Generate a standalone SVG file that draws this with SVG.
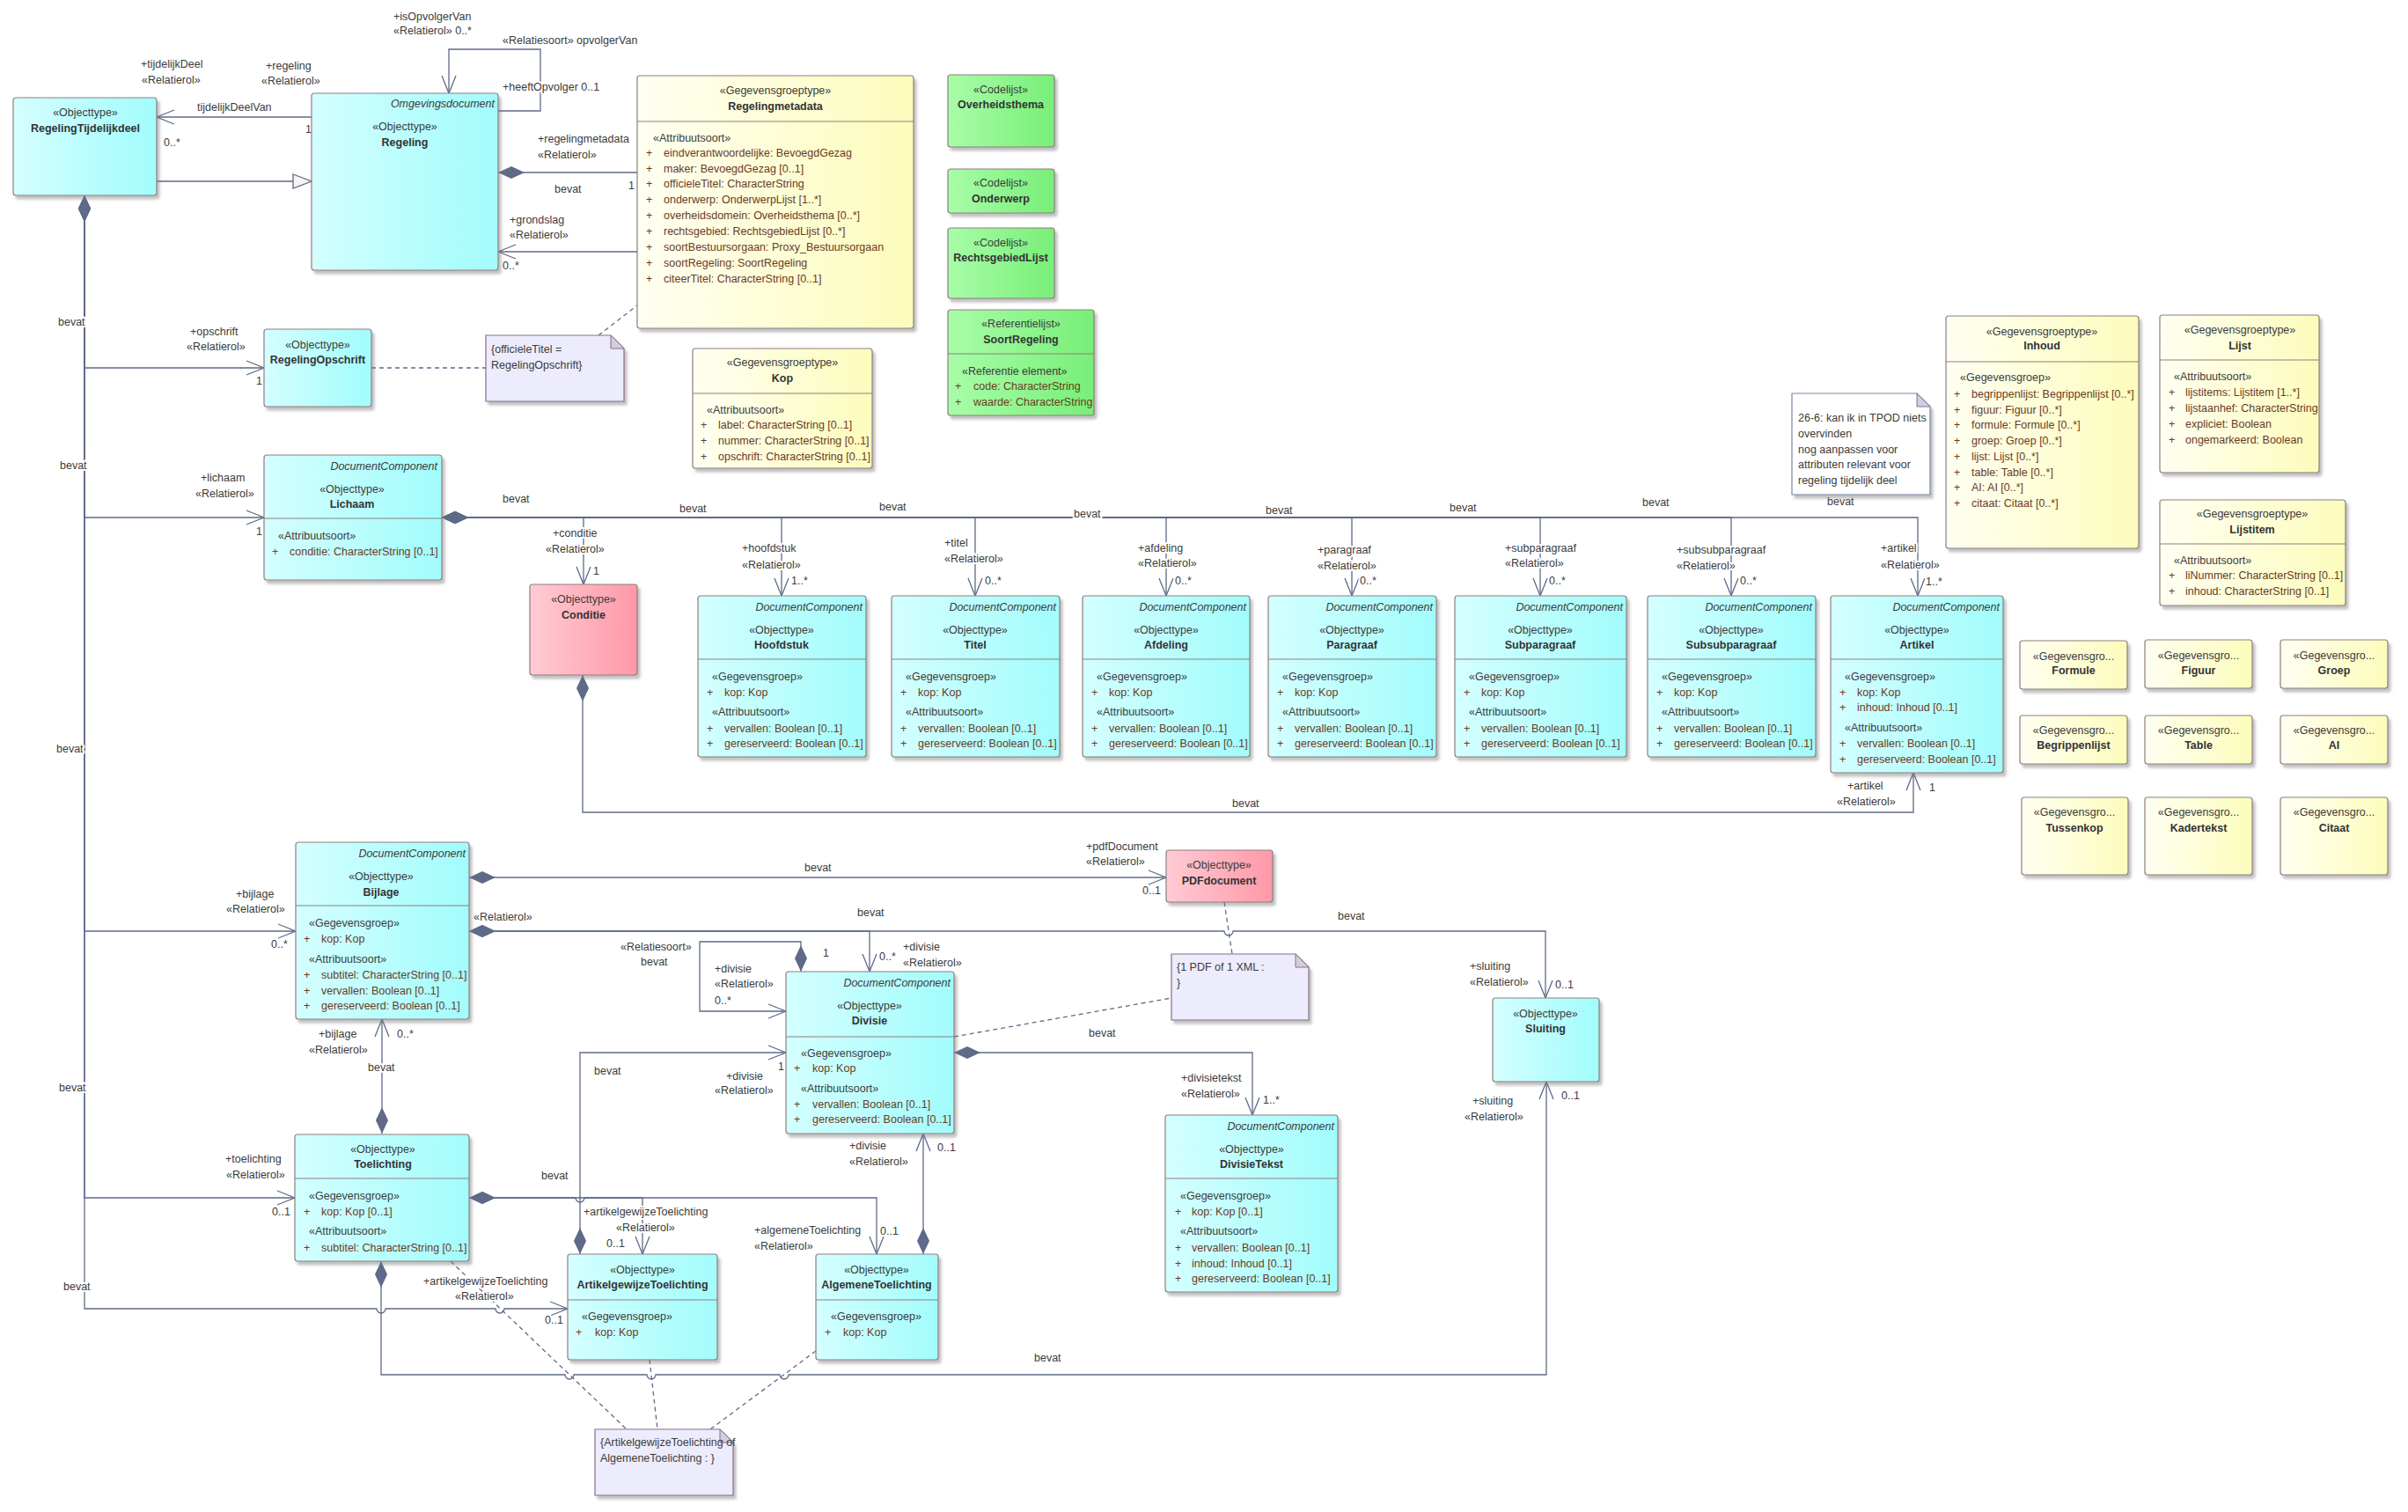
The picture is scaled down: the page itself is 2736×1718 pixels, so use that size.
<svg xmlns="http://www.w3.org/2000/svg" width="2736" height="1718" viewBox="0 0 2736 1718">
<style>
text{font-family:"Liberation Sans",Arial,sans-serif;font-size:12.5px;fill:#3b3b3b;dominant-baseline:central}
.c{text-anchor:middle}
.b{font-weight:bold;fill:#333}
.i{font-style:italic;text-anchor:end}
.a{fill:#6a3a1e}
.l{stroke:#fff;stroke-width:4px;paint-order:stroke;stroke-linejoin:round}
.cn path{fill:none;stroke:#5f6a88;stroke-width:1.3}
.dash{fill:none;stroke:#8c6c8c;stroke-width:1.2;stroke-dasharray:5 4}
.cy{fill:url(#gc);stroke:#8f7f7f;stroke-width:1.2;filter:url(#sh)}
.ye{fill:url(#gy);stroke:#8f7f7f;stroke-width:1.2;filter:url(#sh)}
.gr{fill:url(#gg);stroke:#8f7f7f;stroke-width:1.2;filter:url(#sh)}
.pk{fill:url(#gp);stroke:#8f7f7f;stroke-width:1.2;filter:url(#sh)}
.nt{fill:#ececfc;stroke:#8c6c8c;stroke-width:1.2;filter:url(#sh)}
.nw{fill:#ffffff;stroke:#7a86a0;stroke-width:1.2;filter:url(#sh)}
.fd{fill:#cfcfe0;stroke:#8c6c8c;stroke-width:1}
.dv{stroke:#8f7f7f;stroke-width:1.2}
</style>
<defs>
<linearGradient id="gc" x1="0" y1="0" x2="1" y2="0"><stop offset="0" stop-color="#d4ffff"/><stop offset="1" stop-color="#a2fcfc"/></linearGradient>
<linearGradient id="gy" x1="0" y1="0" x2="1" y2="0"><stop offset="0" stop-color="#fffff2"/><stop offset="1" stop-color="#fcfcbc"/></linearGradient>
<linearGradient id="gg" x1="0" y1="0" x2="1" y2="0"><stop offset="0" stop-color="#a8fda8"/><stop offset="1" stop-color="#78ee78"/></linearGradient>
<linearGradient id="gp" x1="0" y1="0" x2="1" y2="0"><stop offset="0" stop-color="#ffcbd5"/><stop offset="1" stop-color="#ff98a6"/></linearGradient>
<filter id="sh" x="-10%" y="-10%" width="125%" height="125%"><feDropShadow dx="3" dy="4" stdDeviation="1.5" flood-color="#777" flood-opacity="0.45"/></filter>
<marker id="arr" viewBox="-22 -10 24 20" refX="0" refY="0" markerWidth="24" markerHeight="20" markerUnits="userSpaceOnUse" orient="auto"><path d="M-20,-8 L0,0 L-20,8" fill="none" stroke="#5f6a88" stroke-width="1.3"/></marker>
<marker id="dia" viewBox="-32 -9 34 18" refX="0" refY="0" markerWidth="34" markerHeight="18" markerUnits="userSpaceOnUse" orient="auto-start-reverse"><path d="M0,0 L-15,-7 L-30,0 L-15,7 Z" fill="#5f6a88"/></marker>
<marker id="tri" viewBox="-24 -10 26 20" refX="0" refY="0" markerWidth="26" markerHeight="20" markerUnits="userSpaceOnUse" orient="auto"><path d="M-21,-8 L0,0 L-21,8 Z" fill="#fdf3ef" stroke="#5f6a88" stroke-width="1.3"/></marker>
</defs>
<rect x="0" y="0" width="2736" height="1718" fill="#ffffff"/>

<g id="connectors" class="cn">
<path d="M354,133 H178" marker-end="url(#arr)"/>
<path d="M178,206 H354" marker-end="url(#tri)"/>
<path d="M566,126 H614 V56 H510 V106" marker-end="url(#arr)"/>
<path d="M566,196 H724" marker-start="url(#dia)"/>
<path d="M724,286 H566" marker-end="url(#arr)"/>
<path d="M96,222 V418 H300" marker-start="url(#dia)" marker-end="url(#arr)"/>
<path d="M96,222 V588 H300" marker-start="url(#dia)" marker-end="url(#arr)"/>
<path d="M96,222 V1058 H336" marker-start="url(#dia)" marker-end="url(#arr)"/>
<path d="M96,222 V1361 H335" marker-start="url(#dia)" marker-end="url(#arr)"/>
<path d="M96,222 V1487 H428 A5,5 0 0 0 438,1487 H563 A5,5 0 0 0 573,1487 H645" marker-start="url(#dia)" marker-end="url(#arr)"/>
<path d="M502,588 H663 V664" marker-start="url(#dia)" marker-end="url(#arr)"/>
<path d="M502,588 H888 V677" marker-start="url(#dia)" marker-end="url(#arr)"/>
<path d="M502,588 H1108 V677" marker-start="url(#dia)" marker-end="url(#arr)"/>
<path d="M502,588 H1325 V677" marker-start="url(#dia)" marker-end="url(#arr)"/>
<path d="M502,588 H1536 V677" marker-start="url(#dia)" marker-end="url(#arr)"/>
<path d="M502,588 H1750 V677" marker-start="url(#dia)" marker-end="url(#arr)"/>
<path d="M502,588 H1967 V677" marker-start="url(#dia)" marker-end="url(#arr)"/>
<path d="M502,588 H2179 V677" marker-start="url(#dia)" marker-end="url(#arr)"/>
<path d="M662,767 V923 H2174 V878" marker-start="url(#dia)" marker-end="url(#arr)"/>
<path d="M533,997 H1325" marker-start="url(#dia)" marker-end="url(#arr)"/>
<path d="M533,1058 H1391 A5,5 0 0 0 1401,1058 H1756 V1134" marker-start="url(#dia)" marker-end="url(#arr)"/>
<path d="M533,1058 H988 V1104" marker-start="url(#dia)" marker-end="url(#arr)"/>
<path d="M910,1104 V1070 H795 V1149 H893" marker-start="url(#dia)" marker-end="url(#arr)"/>
<path d="M659,1425 V1196 H893" marker-start="url(#dia)" marker-end="url(#arr)"/>
<path d="M1084,1196 H1423 V1267" marker-start="url(#dia)" marker-end="url(#arr)"/>
<path d="M1049,1425 V1288" marker-start="url(#dia)" marker-end="url(#arr)"/>
<path d="M533,1361 H654 A5,5 0 0 0 664,1361 H996 V1425" marker-start="url(#dia)" marker-end="url(#arr)"/>
<path d="M533,1361 H730 V1425" marker-start="url(#dia)" marker-end="url(#arr)"/>
<path d="M433,1433 V1562 H642 A5,5 0 0 0 652,1562 H735 A5,5 0 0 0 745,1562 H886 A5,5 0 0 0 896,1562 H1757 V1229" marker-start="url(#dia)" marker-end="url(#arr)"/>
<path d="M434,1288 V1158" marker-start="url(#dia)" marker-end="url(#arr)"/>
<path class="dash" d="M422,418 H552"/>
<path class="dash" d="M680,381 L724,347"/>
<path class="dash" d="M1391,1025 L1400,1084"/>
<path class="dash" d="M1084,1178 L1331,1134"/>
<path class="dash" d="M512,1433 L712,1624"/>
<path class="dash" d="M738,1545 L747,1624"/>
<path class="dash" d="M927,1535 L807,1624"/>
</g>

<g id="connector-labels">
<text class="l" x="224" y="122">tijdelijkDeelVan</text>
<text class="l" x="347" y="147">1</text>
<text class="l" x="186" y="162">0..*</text>
<text class="l" x="160" y="73">+tijdelijkDeel</text>
<text class="l" x="161" y="91">«Relatierol»</text>
<text class="l" x="302" y="75">+regeling</text>
<text class="l" x="297" y="92">«Relatierol»</text>
<text class="l" x="447" y="19">+isOpvolgerVan</text>
<text class="l" x="447" y="35">«Relatierol» 0..*</text>
<text class="l" x="571" y="46">«Relatiesoort» opvolgerVan</text>
<text class="l" x="571" y="99">+heeftOpvolger 0..1</text>
<text class="l" x="611" y="158">+regelingmetadata</text>
<text class="l" x="611" y="176">«Relatierol»</text>
<text class="l" x="630" y="215">bevat</text>
<text class="l" x="714" y="211">1</text>
<text class="l" x="579" y="250">+grondslag</text>
<text class="l" x="579" y="267">«Relatierol»</text>
<text class="l" x="571" y="302">0..*</text>
<text class="l" x="66" y="366">bevat</text>
<text class="l" x="68" y="529">bevat</text>
<text class="l" x="64" y="851">bevat</text>
<text class="l" x="67" y="1236">bevat</text>
<text class="l" x="72" y="1462">bevat</text>
<text class="l" x="216" y="377">+opschrift</text>
<text class="l" x="212" y="394">«Relatierol»</text>
<text class="l" x="291" y="433">1</text>
<text class="l" x="228" y="543">+lichaam</text>
<text class="l" x="222" y="561">«Relatierol»</text>
<text class="l" x="291" y="604">1</text>
<text class="l" x="571" y="567">bevat</text>
<text class="l" x="628" y="606">+conditie</text>
<text class="l" x="620" y="624">«Relatierol»</text>
<text class="l" x="674" y="649">1</text>
<text class="l" x="772" y="578">bevat</text>
<text class="l" x="999" y="576">bevat</text>
<text class="l" x="1220" y="584">bevat</text>
<text class="l" x="1438" y="580">bevat</text>
<text class="l" x="1647" y="577">bevat</text>
<text class="l" x="1866" y="571">bevat</text>
<text class="l" x="2076" y="570">bevat</text>
<text class="l" x="843" y="623">+hoofdstuk</text>
<text class="l" x="843" y="642">«Relatierol»</text>
<text class="l" x="899" y="660">1..*</text>
<text class="l" x="1073" y="617">+titel</text>
<text class="l" x="1073" y="635">«Relatierol»</text>
<text class="l" x="1119" y="660">0..*</text>
<text class="l" x="1293" y="623">+afdeling</text>
<text class="l" x="1293" y="640">«Relatierol»</text>
<text class="l" x="1335" y="660">0..*</text>
<text class="l" x="1497" y="625">+paragraaf</text>
<text class="l" x="1497" y="643">«Relatierol»</text>
<text class="l" x="1545" y="660">0..*</text>
<text class="l" x="1710" y="623">+subparagraaf</text>
<text class="l" x="1710" y="640">«Relatierol»</text>
<text class="l" x="1760" y="660">0..*</text>
<text class="l" x="1905" y="625">+subsubparagraaf</text>
<text class="l" x="1905" y="643">«Relatierol»</text>
<text class="l" x="1977" y="660">0..*</text>
<text class="l" x="2137" y="623">+artikel</text>
<text class="l" x="2137" y="642">«Relatierol»</text>
<text class="l" x="2188" y="661">1..*</text>
<text class="l" x="1400" y="913">bevat</text>
<text class="l" x="2099" y="893">+artikel</text>
<text class="l" x="2087" y="911">«Relatierol»</text>
<text class="l" x="2192" y="895">1</text>
<text class="l" x="268" y="1016">+bijlage</text>
<text class="l" x="257" y="1033">«Relatierol»</text>
<text class="l" x="308" y="1073">0..*</text>
<text class="l" x="538" y="1042">«Relatierol»</text>
<text class="l" x="914" y="986">bevat</text>
<text class="l" x="1234" y="962">+pdfDocument</text>
<text class="l" x="1234" y="979">«Relatierol»</text>
<text class="l" x="1298" y="1012">0..1</text>
<text class="l" x="974" y="1037">bevat</text>
<text class="l" x="1520" y="1041">bevat</text>
<text class="l" x="1026" y="1076">+divisie</text>
<text class="l" x="1026" y="1094">«Relatierol»</text>
<text class="l" x="999" y="1087">0..*</text>
<text class="l" x="705" y="1076">«Relatiesoort»</text>
<text class="l" x="728" y="1093">bevat</text>
<text class="l" x="935" y="1083">1</text>
<text class="l" x="812" y="1101">+divisie</text>
<text class="l" x="812" y="1118">«Relatierol»</text>
<text class="l" x="812" y="1137">0..*</text>
<text class="l" x="675" y="1217">bevat</text>
<text class="l" x="884" y="1212">1</text>
<text class="l" x="825" y="1223">+divisie</text>
<text class="l" x="812" y="1239">«Relatierol»</text>
<text class="l" x="1237" y="1174">bevat</text>
<text class="l" x="1342" y="1225">+divisietekst</text>
<text class="l" x="1342" y="1243">«Relatierol»</text>
<text class="l" x="1435" y="1250">1..*</text>
<text class="l" x="1670" y="1098">+sluiting</text>
<text class="l" x="1670" y="1116">«Relatierol»</text>
<text class="l" x="1767" y="1119">0..1</text>
<text class="l" x="1673" y="1251">+sluiting</text>
<text class="l" x="1664" y="1269">«Relatierol»</text>
<text class="l" x="1774" y="1245">0..1</text>
<text class="l" x="965" y="1302">+divisie</text>
<text class="l" x="965" y="1320">«Relatierol»</text>
<text class="l" x="1065" y="1304">0..1</text>
<text class="l" x="362" y="1175">+bijlage</text>
<text class="l" x="351" y="1193">«Relatierol»</text>
<text class="l" x="451" y="1175">0..*</text>
<text class="l" x="418" y="1213">bevat</text>
<text class="l" x="256" y="1317">+toelichting</text>
<text class="l" x="257" y="1335">«Relatierol»</text>
<text class="l" x="309" y="1377">0..1</text>
<text class="l" x="615" y="1336">bevat</text>
<text class="l" x="663" y="1377">+artikelgewijzeToelichting</text>
<text class="l" x="700" y="1395">«Relatierol»</text>
<text class="l" x="689" y="1413">0..1</text>
<text class="l" x="857" y="1398">+algemeneToelichting</text>
<text class="l" x="857" y="1416">«Relatierol»</text>
<text class="l" x="1000" y="1399">0..1</text>
<text class="l" x="481" y="1456">+artikelgewijzeToelichting</text>
<text class="l" x="517" y="1473">«Relatierol»</text>
<text class="l" x="619" y="1500">0..1</text>
<text class="l" x="1175" y="1543">bevat</text>
</g>

<g id="RegelingTijdelijkdeel"><rect class="cy" x="15" y="111" width="163" height="111" rx="3"/><text class="c" x="97" y="128">«Objecttype»</text><text class="c b" x="97" y="146">RegelingTijdelijkdeel</text></g>

<g id="Regeling"><rect class="cy" x="354" y="106" width="212" height="201" rx="3"/><text class="i" x="562" y="118">Omgevingsdocument</text><text class="c" x="460" y="144">«Objecttype»</text><text class="c b" x="460" y="162">Regeling</text></g>

<g id="Regelingmetadata"><rect class="ye" x="724" y="86" width="314" height="287" rx="3"/><line class="dv" x1="724" y1="138" x2="1038" y2="138"/>
<text class="c" x="881" y="103">«Gegevensgroeptype»</text><text class="c b" x="881" y="121">Regelingmetadata</text>
<text x="742" y="157">«Attribuutsoort»</text>
<text class="a" x="734" y="174">+<tspan x="754">eindverantwoordelijke: BevoegdGezag</tspan></text>
<text class="a" x="734" y="192">+<tspan x="754">maker: BevoegdGezag [0..1]</tspan></text>
<text class="a" x="734" y="209">+<tspan x="754">officieleTitel: CharacterString</tspan></text>
<text class="a" x="734" y="227">+<tspan x="754">onderwerp: OnderwerpLijst [1..*]</tspan></text>
<text class="a" x="734" y="245">+<tspan x="754">overheidsdomein: Overheidsthema [0..*]</tspan></text>
<text class="a" x="734" y="263">+<tspan x="754">rechtsgebied: RechtsgebiedLijst [0..*]</tspan></text>
<text class="a" x="734" y="281">+<tspan x="754">soortBestuursorgaan: Proxy_Bestuursorgaan</tspan></text>
<text class="a" x="734" y="299">+<tspan x="754">soortRegeling: SoortRegeling</tspan></text>
<text class="a" x="734" y="317">+<tspan x="754">citeerTitel: CharacterString [0..1]</tspan></text></g>

<g id="Overheidsthema"><rect class="gr" x="1077" y="85" width="121" height="82" rx="3"/><text class="c" x="1137" y="102">«Codelijst»</text><text class="c b" x="1137" y="119">Overheidsthema</text></g>
<g id="Onderwerp"><rect class="gr" x="1077" y="192" width="121" height="50" rx="3"/><text class="c" x="1137" y="208">«Codelijst»</text><text class="c b" x="1137" y="226">Onderwerp</text></g>
<g id="RechtsgebiedLijst"><rect class="gr" x="1077" y="259" width="121" height="80" rx="3"/><text class="c" x="1137" y="276">«Codelijst»</text><text class="c b" x="1137" y="293">RechtsgebiedLijst</text></g>
<g id="SoortRegeling"><rect class="gr" x="1077" y="352" width="166" height="120" rx="3"/><line class="dv" x1="1077" y1="402" x2="1243" y2="402"/><text class="c" x="1160" y="368">«Referentielijst»</text><text class="c b" x="1160" y="386">SoortRegeling</text><text x="1093" y="422">«Referentie element»</text>
<text class="a" x="1085" y="439">+<tspan x="1106">code: CharacterString</tspan></text>
<text class="a" x="1085" y="457">+<tspan x="1106">waarde: CharacterString</tspan></text></g>

<g id="Kop"><rect class="ye" x="787" y="396" width="204" height="136" rx="3"/><line class="dv" x1="787" y1="447" x2="991" y2="447"/><text class="c" x="889" y="412">«Gegevensgroeptype»</text><text class="c b" x="889" y="430">Kop</text><text x="803" y="466">«Attribuutsoort»</text>
<text class="a" x="796" y="483">+<tspan x="816">label: CharacterString [0..1]</tspan></text>
<text class="a" x="796" y="501">+<tspan x="816">nummer: CharacterString [0..1]</tspan></text>
<text class="a" x="796" y="519">+<tspan x="816">opschrift: CharacterString [0..1]</tspan></text></g>

<g id="RegelingOpschrift"><rect class="cy" x="300" y="374" width="122" height="88" rx="3"/><text class="c" x="361" y="392">«Objecttype»</text><text class="c b" x="361" y="409">RegelingOpschrift</text></g>

<g id="NoteOfficieleTitel"><path class="nt" d="M552,381 H694 L709,396 V456 H552 Z"/><path class="fd" d="M694,381 V396 H709 Z"/><text x="558" y="397">{officieleTitel =</text><text x="558" y="415">RegelingOpschrift}</text></g>

<g id="Lichaam"><rect class="cy" x="300" y="517" width="202" height="142" rx="3"/><line class="dv" x1="300" y1="589" x2="502" y2="589"/><text class="i" x="497" y="530">DocumentComponent</text><text class="c" x="400" y="556">«Objecttype»</text><text class="c b" x="400" y="573">Lichaam</text><text x="316" y="609">«Attribuutsoort»</text>
<text class="a" x="309" y="627">+<tspan x="329">conditie: CharacterString [0..1]</tspan></text></g>

<g id="Conditie"><rect class="pk" x="602" y="664" width="122" height="103" rx="3"/><text class="c" x="663" y="681">«Objecttype»</text><text class="c b" x="663" y="699">Conditie</text></g>

<g id="Hoofdstuk"><rect class="cy" x="793" y="677" width="191" height="183" rx="3"/><line class="dv" x1="793" y1="749" x2="984" y2="749"/><text class="i" x="980" y="690">DocumentComponent</text><text class="c" x="888" y="716">«Objecttype»</text><text class="c b" x="888" y="733">Hoofdstuk</text><text x="809" y="769">«Gegevensgroep»</text>
<text class="a" x="803" y="787">+<tspan x="823">kop: Kop</tspan></text><text x="809" y="809">«Attribuutsoort»</text>
<text class="a" x="803" y="828">+<tspan x="823">vervallen: Boolean [0..1]</tspan></text>
<text class="a" x="803" y="845">+<tspan x="823">gereserveerd: Boolean [0..1]</tspan></text></g>

<g id="Titel"><rect class="cy" x="1013" y="677" width="191" height="183" rx="3"/><line class="dv" x1="1013" y1="749" x2="1204" y2="749"/><text class="i" x="1200" y="690">DocumentComponent</text><text class="c" x="1108" y="716">«Objecttype»</text><text class="c b" x="1108" y="733">Titel</text><text x="1029" y="769">«Gegevensgroep»</text>
<text class="a" x="1023" y="787">+<tspan x="1043">kop: Kop</tspan></text><text x="1029" y="809">«Attribuutsoort»</text>
<text class="a" x="1023" y="828">+<tspan x="1043">vervallen: Boolean [0..1]</tspan></text>
<text class="a" x="1023" y="845">+<tspan x="1043">gereserveerd: Boolean [0..1]</tspan></text></g>

<g id="Afdeling"><rect class="cy" x="1230" y="677" width="190" height="183" rx="3"/><line class="dv" x1="1230" y1="749" x2="1420" y2="749"/><text class="i" x="1416" y="690">DocumentComponent</text><text class="c" x="1325" y="716">«Objecttype»</text><text class="c b" x="1325" y="733">Afdeling</text><text x="1246" y="769">«Gegevensgroep»</text>
<text class="a" x="1240" y="787">+<tspan x="1260">kop: Kop</tspan></text><text x="1246" y="809">«Attribuutsoort»</text>
<text class="a" x="1240" y="828">+<tspan x="1260">vervallen: Boolean [0..1]</tspan></text>
<text class="a" x="1240" y="845">+<tspan x="1260">gereserveerd: Boolean [0..1]</tspan></text></g>

<g id="Paragraaf"><rect class="cy" x="1441" y="677" width="191" height="183" rx="3"/><line class="dv" x1="1441" y1="749" x2="1632" y2="749"/><text class="i" x="1628" y="690">DocumentComponent</text><text class="c" x="1536" y="716">«Objecttype»</text><text class="c b" x="1536" y="733">Paragraaf</text><text x="1457" y="769">«Gegevensgroep»</text>
<text class="a" x="1451" y="787">+<tspan x="1471">kop: Kop</tspan></text><text x="1457" y="809">«Attribuutsoort»</text>
<text class="a" x="1451" y="828">+<tspan x="1471">vervallen: Boolean [0..1]</tspan></text>
<text class="a" x="1451" y="845">+<tspan x="1471">gereserveerd: Boolean [0..1]</tspan></text></g>

<g id="Subparagraaf"><rect class="cy" x="1653" y="677" width="195" height="183" rx="3"/><line class="dv" x1="1653" y1="749" x2="1848" y2="749"/><text class="i" x="1844" y="690">DocumentComponent</text><text class="c" x="1750" y="716">«Objecttype»</text><text class="c b" x="1750" y="733">Subparagraaf</text><text x="1669" y="769">«Gegevensgroep»</text>
<text class="a" x="1663" y="787">+<tspan x="1683">kop: Kop</tspan></text><text x="1669" y="809">«Attribuutsoort»</text>
<text class="a" x="1663" y="828">+<tspan x="1683">vervallen: Boolean [0..1]</tspan></text>
<text class="a" x="1663" y="845">+<tspan x="1683">gereserveerd: Boolean [0..1]</tspan></text></g>

<g id="Subsubparagraaf"><rect class="cy" x="1872" y="677" width="191" height="183" rx="3"/><line class="dv" x1="1872" y1="749" x2="2063" y2="749"/><text class="i" x="2059" y="690">DocumentComponent</text><text class="c" x="1967" y="716">«Objecttype»</text><text class="c b" x="1967" y="733">Subsubparagraaf</text><text x="1888" y="769">«Gegevensgroep»</text>
<text class="a" x="1882" y="787">+<tspan x="1902">kop: Kop</tspan></text><text x="1888" y="809">«Attribuutsoort»</text>
<text class="a" x="1882" y="828">+<tspan x="1902">vervallen: Boolean [0..1]</tspan></text>
<text class="a" x="1882" y="845">+<tspan x="1902">gereserveerd: Boolean [0..1]</tspan></text></g>

<g id="Artikel"><rect class="cy" x="2080" y="677" width="196" height="201" rx="3"/><line class="dv" x1="2080" y1="749" x2="2276" y2="749"/><text class="i" x="2272" y="690">DocumentComponent</text><text class="c" x="2178" y="716">«Objecttype»</text><text class="c b" x="2178" y="733">Artikel</text><text x="2096" y="769">«Gegevensgroep»</text>
<text class="a" x="2090" y="787">+<tspan x="2110">kop: Kop</tspan></text>
<text class="a" x="2090" y="804">+<tspan x="2110">inhoud: Inhoud [0..1]</tspan></text><text x="2096" y="827">«Attribuutsoort»</text>
<text class="a" x="2090" y="845">+<tspan x="2110">vervallen: Boolean [0..1]</tspan></text>
<text class="a" x="2090" y="863">+<tspan x="2110">gereserveerd: Boolean [0..1]</tspan></text></g>

<g id="Inhoud"><rect class="ye" x="2211" y="359" width="219" height="264" rx="3"/><line class="dv" x1="2211" y1="411" x2="2430" y2="411"/><text class="c" x="2320" y="377">«Gegevensgroeptype»</text><text class="c b" x="2320" y="393">Inhoud</text><text x="2227" y="429">«Gegevensgroep»</text>
<text class="a" x="2220" y="448">+<tspan x="2240">begrippenlijst: Begrippenlijst [0..*]</tspan></text>
<text class="a" x="2220" y="466">+<tspan x="2240">figuur: Figuur [0..*]</tspan></text>
<text class="a" x="2220" y="483">+<tspan x="2240">formule: Formule [0..*]</tspan></text>
<text class="a" x="2220" y="501">+<tspan x="2240">groep: Groep [0..*]</tspan></text>
<text class="a" x="2220" y="519">+<tspan x="2240">lijst: Lijst [0..*]</tspan></text>
<text class="a" x="2220" y="537">+<tspan x="2240">table: Table [0..*]</tspan></text>
<text class="a" x="2220" y="554">+<tspan x="2240">AI: AI [0..*]</tspan></text>
<text class="a" x="2220" y="572">+<tspan x="2240">citaat: Citaat [0..*]</tspan></text></g>

<g id="Lijst"><rect class="ye" x="2454" y="358" width="181" height="179" rx="3"/><line class="dv" x1="2454" y1="409" x2="2635" y2="409"/><text class="c" x="2545" y="375">«Gegevensgroeptype»</text><text class="c b" x="2545" y="393">Lijst</text><text x="2470" y="428">«Attribuutsoort»</text>
<text class="a" x="2464" y="446">+<tspan x="2483">lijstitems: Lijstitem [1..*]</tspan></text>
<text class="a" x="2464" y="464">+<tspan x="2483">lijstaanhef: CharacterString</tspan></text>
<text class="a" x="2464" y="482">+<tspan x="2483">expliciet: Boolean</tspan></text>
<text class="a" x="2464" y="500">+<tspan x="2483">ongemarkeerd: Boolean</tspan></text></g>

<g id="Lijstitem"><rect class="ye" x="2454" y="568" width="211" height="120" rx="3"/><line class="dv" x1="2454" y1="618" x2="2665" y2="618"/><text class="c" x="2559" y="584">«Gegevensgroeptype»</text><text class="c b" x="2559" y="602">Lijstitem</text><text x="2470" y="637">«Attribuutsoort»</text>
<text class="a" x="2464" y="654">+<tspan x="2483">liNummer: CharacterString [0..1]</tspan></text>
<text class="a" x="2464" y="672">+<tspan x="2483">inhoud: CharacterString [0..1]</tspan></text></g>

<g id="Note26-6"><path class="nw" d="M2036,447 H2178 L2193,462 V562 H2036 Z"/><path class="fd" d="M2178,447 V462 H2193 Z"/><text x="2043" y="475">26-6: kan ik in TPOD niets</text><text x="2043" y="493">overvinden</text><text x="2043" y="511">nog aanpassen voor</text><text x="2043" y="528">attributen relevant voor</text><text x="2043" y="546">regeling tijdelijk deel</text></g>

<g id="Formule"><rect class="ye" x="2295" y="728" width="122" height="55" rx="3"/><text class="c" x="2356" y="746">«Gegevensgro...</text><text class="c b" x="2356" y="762">Formule</text></g>
<g id="Figuur"><rect class="ye" x="2437" y="727" width="122" height="55" rx="3"/><text class="c" x="2498" y="745">«Gegevensgro...</text><text class="c b" x="2498" y="762">Figuur</text></g>
<g id="Groep"><rect class="ye" x="2591" y="727" width="122" height="55" rx="3"/><text class="c" x="2652" y="745">«Gegevensgro...</text><text class="c b" x="2652" y="762">Groep</text></g>
<g id="Begrippenlijst"><rect class="ye" x="2295" y="813" width="122" height="55" rx="3"/><text class="c" x="2356" y="830">«Gegevensgro...</text><text class="c b" x="2356" y="847">Begrippenlijst</text></g>
<g id="Table"><rect class="ye" x="2437" y="813" width="122" height="55" rx="3"/><text class="c" x="2498" y="830">«Gegevensgro...</text><text class="c b" x="2498" y="847">Table</text></g>
<g id="AI"><rect class="ye" x="2591" y="813" width="122" height="55" rx="3"/><text class="c" x="2652" y="830">«Gegevensgro...</text><text class="c b" x="2652" y="847">AI</text></g>
<g id="Tussenkop"><rect class="ye" x="2297" y="906" width="121" height="88" rx="3"/><text class="c" x="2357" y="923">«Gegevensgro...</text><text class="c b" x="2357" y="941">Tussenkop</text></g>
<g id="Kadertekst"><rect class="ye" x="2437" y="906" width="122" height="88" rx="3"/><text class="c" x="2498" y="923">«Gegevensgro...</text><text class="c b" x="2498" y="941">Kadertekst</text></g>
<g id="Citaat"><rect class="ye" x="2591" y="906" width="122" height="88" rx="3"/><text class="c" x="2652" y="923">«Gegevensgro...</text><text class="c b" x="2652" y="941">Citaat</text></g>

<g id="Bijlage"><rect class="cy" x="336" y="957" width="197" height="201" rx="3"/><line class="dv" x1="336" y1="1029" x2="533" y2="1029"/><text class="i" x="529" y="970">DocumentComponent</text><text class="c" x="433" y="996">«Objecttype»</text><text class="c b" x="433" y="1014">Bijlage</text><text x="351" y="1049">«Gegevensgroep»</text>
<text class="a" x="345" y="1067">+<tspan x="365">kop: Kop</tspan></text><text x="351" y="1090">«Attribuutsoort»</text>
<text class="a" x="345" y="1108">+<tspan x="365">subtitel: CharacterString [0..1]</tspan></text>
<text class="a" x="345" y="1126">+<tspan x="365">vervallen: Boolean [0..1]</tspan></text>
<text class="a" x="345" y="1143">+<tspan x="365">gereserveerd: Boolean [0..1]</tspan></text></g>

<g id="PDFdocument"><rect class="pk" x="1325" y="966" width="121" height="59" rx="3"/><text class="c" x="1385" y="983">«Objecttype»</text><text class="c b" x="1385" y="1001">PDFdocument</text></g>

<g id="NotePDF"><path class="nt" d="M1331,1084 H1472 L1487,1099 V1159 H1331 Z"/><path class="fd" d="M1472,1084 V1099 H1487 Z"/><text x="1337" y="1099">{1 PDF of 1 XML :</text><text x="1337" y="1117">}</text></g>

<g id="Divisie"><rect class="cy" x="893" y="1104" width="191" height="184" rx="3"/><line class="dv" x1="893" y1="1178" x2="1084" y2="1178"/><text class="i" x="1080" y="1117">DocumentComponent</text><text class="c" x="988" y="1143">«Objecttype»</text><text class="c b" x="988" y="1160">Divisie</text><text x="910" y="1197">«Gegevensgroep»</text>
<text class="a" x="902" y="1214">+<tspan x="923">kop: Kop</tspan></text><text x="910" y="1237">«Attribuutsoort»</text>
<text class="a" x="902" y="1255">+<tspan x="923">vervallen: Boolean [0..1]</tspan></text>
<text class="a" x="902" y="1272">+<tspan x="923">gereserveerd: Boolean [0..1]</tspan></text></g>

<g id="Sluiting"><rect class="cy" x="1696" y="1134" width="121" height="95" rx="3"/><text class="c" x="1756" y="1152">«Objecttype»</text><text class="c b" x="1756" y="1169">Sluiting</text></g>

<g id="DivisieTekst"><rect class="cy" x="1324" y="1267" width="196" height="201" rx="3"/><line class="dv" x1="1324" y1="1339" x2="1520" y2="1339"/><text class="i" x="1516" y="1280">DocumentComponent</text><text class="c" x="1422" y="1306">«Objecttype»</text><text class="c b" x="1422" y="1323">DivisieTekst</text><text x="1341" y="1359">«Gegevensgroep»</text>
<text class="a" x="1335" y="1377">+<tspan x="1354">kop: Kop [0..1]</tspan></text><text x="1341" y="1399">«Attribuutsoort»</text>
<text class="a" x="1335" y="1418">+<tspan x="1354">vervallen: Boolean [0..1]</tspan></text>
<text class="a" x="1335" y="1436">+<tspan x="1354">inhoud: Inhoud [0..1]</tspan></text>
<text class="a" x="1335" y="1453">+<tspan x="1354">gereserveerd: Boolean [0..1]</tspan></text></g>

<g id="Toelichting"><rect class="cy" x="335" y="1289" width="198" height="144" rx="3"/><line class="dv" x1="335" y1="1339" x2="533" y2="1339"/><text class="c" x="435" y="1306">«Objecttype»</text><text class="c b" x="435" y="1323">Toelichting</text><text x="351" y="1359">«Gegevensgroep»</text>
<text class="a" x="345" y="1377">+<tspan x="365">kop: Kop [0..1]</tspan></text><text x="351" y="1399">«Attribuutsoort»</text>
<text class="a" x="345" y="1418">+<tspan x="365">subtitel: CharacterString [0..1]</tspan></text></g>

<g id="ArtikelgewijzeToelichting"><rect class="cy" x="645" y="1425" width="170" height="120" rx="3"/><line class="dv" x1="645" y1="1477" x2="815" y2="1477"/><text class="c" x="730" y="1443">«Objecttype»</text><text class="c b" x="730" y="1460">ArtikelgewijzeToelichting</text><text x="661" y="1496">«Gegevensgroep»</text>
<text class="a" x="654" y="1514">+<tspan x="676">kop: Kop</tspan></text></g>

<g id="AlgemeneToelichting"><rect class="cy" x="927" y="1425" width="139" height="120" rx="3"/><line class="dv" x1="927" y1="1477" x2="1066" y2="1477"/><text class="c" x="996" y="1443">«Objecttype»</text><text class="c b" x="996" y="1460">AlgemeneToelichting</text><text x="944" y="1496">«Gegevensgroep»</text>
<text class="a" x="937" y="1514">+<tspan x="958">kop: Kop</tspan></text></g>

<g id="NoteToelichting"><path class="nt" d="M676,1624 H818 L833,1639 V1699 H676 Z"/><path class="fd" d="M818,1624 V1639 H833 Z"/><text x="682" y="1639">{ArtikelgewijzeToelichting of</text><text x="682" y="1657">AlgemeneToelichting : }</text></g>
</svg>
